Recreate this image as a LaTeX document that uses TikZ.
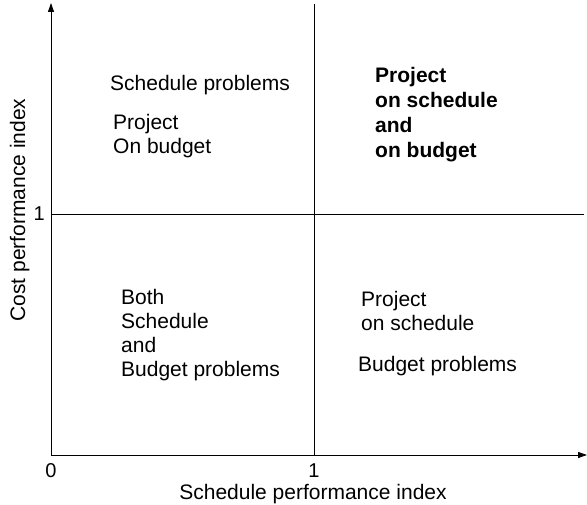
\documentclass[tikz,border=0pt]{standalone}
\usepackage{fontspec}
\setmainfont{Liberation Sans}
\usetikzlibrary{arrows.meta}
\begin{document}
\begin{tikzpicture}[x=1pt,y=-1pt,
  lbl/.style={inner sep=0pt,anchor=base west,font=\fontsize{21}{25}\selectfont},
  blbl/.style={lbl,font=\fontsize{21}{25}\selectfont\bfseries},
  axlbl/.style={inner sep=0pt,font=\fontsize{21}{25}\selectfont},
  tick/.style={inner sep=0pt,font=\fontsize{20}{24}\selectfont},
  axis/.style={line width=0.9pt,-{Triangle[length=9pt,width=6pt]}},
  grid/.style={line width=0.9pt}]
\useasboundingbox (0,0) rectangle (587,505);
% coordinates
\coordinate (O) at (51,455);
\coordinate (Ytop) at (51,3);
\coordinate (Xend) at (587,455);
\coordinate (Vtop) at (314,4);
\coordinate (Vbot) at (314,455);
\coordinate (Hl) at (51,214);
\coordinate (Hr) at (584,214);
% axes and dividers
\draw[axis] (O) -- (Ytop);
\draw[axis] (O) -- (Xend);
\draw[grid] (Vbot) -- (Vtop);
\draw[grid] (Hl) -- (Hr);
% ticks
\node[tick,anchor=base] (t0) at (51,477) {0};
\node[tick,anchor=base] (t1x) at (314,477) {1};
\node[tick,anchor=east] (t1y) at (45,214) {1};
% axis labels
\node[axlbl,anchor=base] (xl) at (313,499) {Schedule performance index};
\node[axlbl,anchor=base,rotate=90] (yl) at (25,210) {Cost performance index};
% upper left
\node[lbl] (ul1) at (110,91) {Schedule problems};
\node[lbl] (ul2) at (113,130) {Project};
\node[lbl] (ul3) at (113,154) {On budget};
% upper right
\node[blbl] (ur1) at (375,83) {Project};
\node[blbl] (ur2) at (375,108) {on schedule};
\node[blbl] (ur3) at (375,133) {and};
\node[blbl] (ur4) at (375,158) {on budget};
% lower left
\node[lbl] (ll1) at (121,305) {Both};
\node[lbl] (ll2) at (121,329) {Schedule};
\node[lbl] (ll3) at (121,353) {and};
\node[lbl] (ll4) at (121,377) {Budget problems};
% lower right
\node[lbl] (lr1) at (361,307) {Project};
\node[lbl] (lr2) at (361,331) {on schedule};
\node[lbl] (lr3) at (358,371) {Budget problems};
\end{tikzpicture}
\end{document}
